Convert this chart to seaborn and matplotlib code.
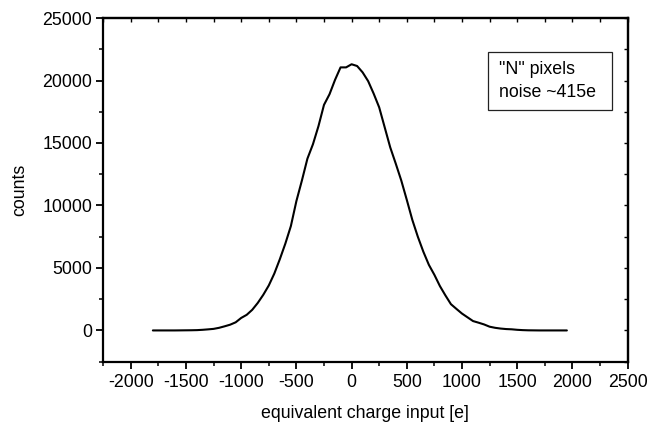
import numpy as np
import pandas as pd
import matplotlib
matplotlib.use("Agg")
import matplotlib.pyplot as plt
from matplotlib.patches import Rectangle
from matplotlib.ticker import MultipleLocator, NullFormatter
import seaborn as sns

# Data
charge = [-1800, -1750, -1700, -1650, -1600, -1550, -1500, -1450, -1400, -1350,
          -1300, -1250, -1200, -1150, -1100, -1050, -1000, -950, -900, -850,
          -800, -750, -700, -650, -600, -550, -500, -450, -400, -350,
          -300, -250, -200, -150, -100, -50, 0, 50, 100, 150,
          200, 250, 300, 350, 400, 450, 500, 550, 600, 650,
          700, 750, 800, 850, 900, 950, 1000, 1050, 1100, 1150,
          1200, 1250, 1300, 1350, 1400, 1450, 1500, 1550, 1600, 1650,
          1700, 1750, 1800, 1850, 1900, 1950]
counts = [0, 0, 0, 0, 0, 5, 10, 15, 25, 50,
          85, 125, 210, 330, 460, 650, 1000, 1250, 1650, 2200,
          2850, 3600, 4550, 5700, 6950, 8350, 10350, 12000, 13750, 14900,
          16350, 18050, 18900, 20050, 21050, 21050, 21300, 21160, 20650, 19950,
          18950, 17850, 16250, 14650, 13350, 12000, 10450, 8850, 7500, 6300,
          5250, 4450, 3550, 2800, 2100, 1720, 1350, 1050, 750, 620,
          480, 300, 210, 150, 110, 90, 50, 25, 10, 5,
          0, 0, 0, 0, 0, 0]
x_ticks = [-2000, -1500, -1000, -500, 0, 500, 1000, 1500, 2000, 2500]
y_ticks = [0, 5000, 10000, 15000, 20000, 25000]
annotation_lines = ['"N" pixels', 'noise ~415e']

sns.set_style("ticks")
plt.rcParams['font.family'] = ['Liberation Sans', 'DejaVu Sans']
plt.rcParams['axes.unicode_minus'] = False

FS = 12.8

df = pd.DataFrame({"charge": charge, "counts": counts})

fig = plt.figure(figsize=(6.49, 4.25), dpi=100)
ax = fig.add_axes([0.159, 0.149, 0.808, 0.8086])

sns.lineplot(data=df, x="charge", y="counts", ax=ax, color="black",
             linewidth=1.5, estimator=None, sort=False)

ax.set_xlim(-2250, 2500)
ax.set_ylim(-2500, 25000)
ax.set_xticks(x_ticks)
ax.set_yticks(y_ticks)
ax.xaxis.set_minor_locator(MultipleLocator(250))
ax.yaxis.set_minor_locator(MultipleLocator(2500))
ax.tick_params(which="major", direction="out", length=5, width=1.3,
               labelsize=FS, pad=3, color="black", labelcolor="black")
ax.tick_params(which="minor", direction="out", length=3, width=1.1, color="black")
ax.tick_params(axis="x", which="major", pad=4)

for s in ax.spines.values():
    s.set_visible(True)
    s.set_linewidth(1.6)
    s.set_color("black")

# mirrored inward ticks on top / right
secx = ax.secondary_xaxis('top')
secx.xaxis.set_major_locator(MultipleLocator(250))
secx.xaxis.set_major_formatter(NullFormatter())
secx.tick_params(direction="in", length=3, width=1.0, color="black")
secx.spines['top'].set_linewidth(1.6)
secy = ax.secondary_yaxis('right')
secy.yaxis.set_major_locator(MultipleLocator(2500))
secy.yaxis.set_major_formatter(NullFormatter())
secy.tick_params(direction="in", length=3, width=1.0, color="black")
secy.spines['right'].set_linewidth(1.6)

ax.set_xlabel("equivalent charge input [e]", fontsize=FS, labelpad=10, color="black")
ax.set_ylabel("counts", fontsize=FS, labelpad=10, color="black")

ax.add_patch(Rectangle((0.734, 0.732), 0.2355, 0.170, transform=ax.transAxes,
                       fill=False, edgecolor="#222222", linewidth=0.9, zorder=5))
ax.text(0.755, 0.849, annotation_lines[0], transform=ax.transAxes,
        fontsize=FS, va="center", ha="left", color="black")
ax.text(0.755, 0.782, annotation_lines[1], transform=ax.transAxes,
        fontsize=FS, va="center", ha="left", color="black")

fig.savefig("out.png", dpi=100)
